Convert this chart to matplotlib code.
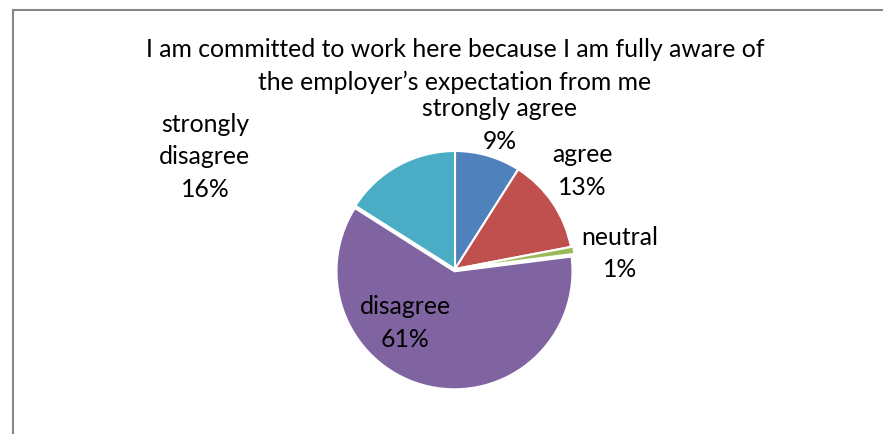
import matplotlib
matplotlib.use("Agg")
import matplotlib.pyplot as plt
from matplotlib.lines import Line2D

plt.rcParams['font.family'] = ['Lato', 'DejaVu Sans']

categories = ['strongly agree', 'agree', 'neutral', 'disagree', 'strongly\ndisagree']
shares = [9, 13, 1, 61, 16]
colors = ['#4F81BD', '#C0504D', '#9BBB59', '#8064A2', '#4BACC6']
explode = [0, 0, 0.02, 0.02, 0]
# label centres, in pie-radius units from the pie centre
label_pos = [(0.38, 1.23), (1.08, 0.84), (1.40, 0.14), (-0.42, -0.45), (-2.12, 0.96)]

W, H = 883, 435
cx, cy, r = 455, 270, 118  # pie centre and radius in pixels

fig = plt.figure(figsize=(W / 100, H / 100), dpi=100)
ax = fig.add_axes([0, 0, 1, 1])
ax.axis('off')

ax.pie(shares, colors=colors, startangle=90, counterclock=False,
       explode=explode, radius=1.0,
       wedgeprops=dict(edgecolor='white', linewidth=1.5))
ax.set_aspect('auto')
ax.set_xlim(-cx / r, (W - cx) / r)
ax.set_ylim(-(H - cy) / r, cy / r)

for name, val, (lx, ly) in zip(categories, shares, label_pos):
    ax.text(lx, ly, f"{name}\n{val}%", ha='center', va='center',
            fontsize=17.8, linespacing=1.5, color='black')

fig.text(cx / W, 1 - 66 / H,
         "I am committed to work here because I am fully aware of\nthe employer\u2019s expectation from me",
         ha='center', va='center', fontsize=17.8, linespacing=1.5)

# chart frame, cut off at the right and bottom
fig.add_artist(Line2D([12.5 / W, 12.5 / W], [0, 1 - 10.5 / H], color='#868686', lw=1.5))
fig.add_artist(Line2D([12.5 / W, 1], [1 - 10.5 / H, 1 - 10.5 / H], color='#868686', lw=1.5))

fig.savefig('out.png', dpi=100)
